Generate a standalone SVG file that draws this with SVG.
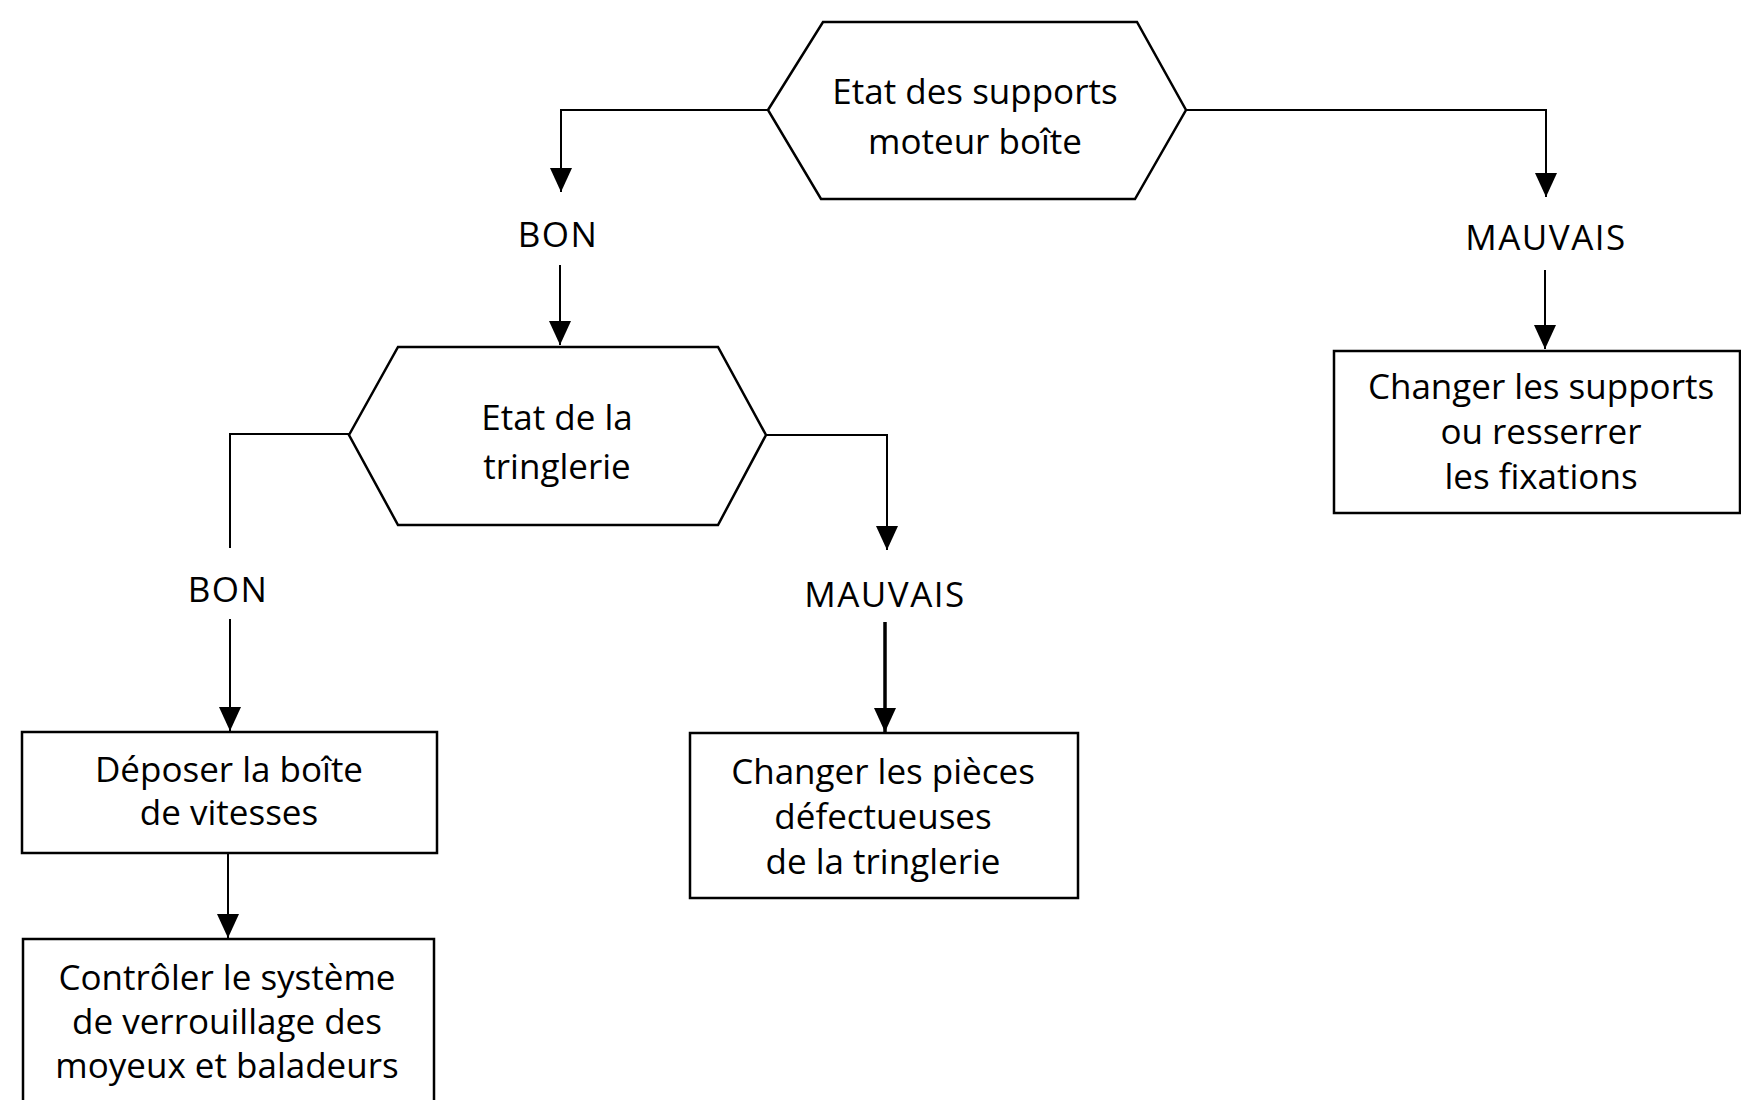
<svg xmlns="http://www.w3.org/2000/svg" width="1741" height="1100" viewBox="0 0 1741 1100">
  <defs>
    <marker id="arrow" markerUnits="userSpaceOnUse" markerWidth="24" markerHeight="22" refX="24" refY="11" orient="auto">
      <path d="M0,0 L24,11 L0,22 Z" fill="#000"/>
    </marker>
    <style>
      .shape { fill: #fff; stroke: #000; stroke-width: 2.5; }
      .link { fill: none; stroke: #000; stroke-width: 2; }
      .heavy { stroke-width: 3.5; }
      text { font-family: "Open Sans", "Noto Sans", "Liberation Sans", sans-serif; font-size: 35px; fill: #000; text-anchor: middle; }
      .tag { letter-spacing: 1.5px; }
    </style>
  </defs>
  <rect width="1741" height="1100" fill="#fff"/>

  <!-- connectors -->
  <g id="connectors">
    <path class="link" d="M768,110 H561 V192" marker-end="url(#arrow)"/>
    <path class="link" d="M1186,110 H1546 V197" marker-end="url(#arrow)"/>
    <path class="link" d="M560,265 V345" marker-end="url(#arrow)"/>
    <path class="link" d="M1545,270 V349" marker-end="url(#arrow)"/>
    <path class="link" d="M349,434 H230 V548"/>
    <path class="link" d="M230,619 V731" marker-end="url(#arrow)"/>
    <path class="link" d="M766,435 H887 V550" marker-end="url(#arrow)"/>
    <path class="link heavy" d="M885,622 V732" marker-end="url(#arrow)"/>
    <path class="link" d="M228,853 V938" marker-end="url(#arrow)"/>
  </g>

  <!-- branch labels -->
  <g id="label-bon-1"><text class="tag" x="558" y="247">BON</text></g>
  <g id="label-mauvais-1"><text class="tag" x="1546" y="250">MAUVAIS</text></g>
  <g id="label-bon-2"><text class="tag" x="228" y="602">BON</text></g>
  <g id="label-mauvais-2"><text class="tag" x="885" y="607">MAUVAIS</text></g>

  <!-- decision: engine / gearbox mounts -->
  <g id="node-supports">
    <polygon class="shape" points="768,110 823,22 1137,22 1186,110 1135,199 821,199"/>
    <text x="975" y="104">Etat des supports</text>
    <text x="975" y="154">moteur boîte</text>
  </g>

  <!-- decision: linkage -->
  <g id="node-tringlerie">
    <polygon class="shape" points="349,435 398,347 718,347 766,435 718,525 398,525"/>
    <text x="557" y="430">Etat de la</text>
    <text x="557" y="479">tringlerie</text>
  </g>

  <!-- action: replace mounts -->
  <g id="node-changer-supports">
    <rect class="shape" x="1334" y="351" width="406" height="162"/>
    <text x="1541" y="399">Changer les supports</text>
    <text x="1541" y="444">ou resserrer</text>
    <text x="1541" y="489">les fixations</text>
  </g>

  <!-- action: remove gearbox -->
  <g id="node-deposer">
    <rect class="shape" x="22" y="732" width="415" height="121"/>
    <text x="229" y="782">Déposer la boîte</text>
    <text x="229" y="825">de vitesses</text>
  </g>

  <!-- action: replace linkage parts -->
  <g id="node-changer-pieces">
    <rect class="shape" x="690" y="733" width="388" height="165"/>
    <text x="883" y="784">Changer les pièces</text>
    <text x="883" y="829">défectueuses</text>
    <text x="883" y="874">de la tringlerie</text>
  </g>

  <!-- action: check locking system -->
  <g id="node-controler">
    <rect class="shape" x="23" y="939" width="411" height="180"/>
    <text x="227" y="990">Contrôler le système</text>
    <text x="227" y="1034">de verrouillage des</text>
    <text x="227" y="1078">moyeux et baladeurs</text>
  </g>
</svg>
